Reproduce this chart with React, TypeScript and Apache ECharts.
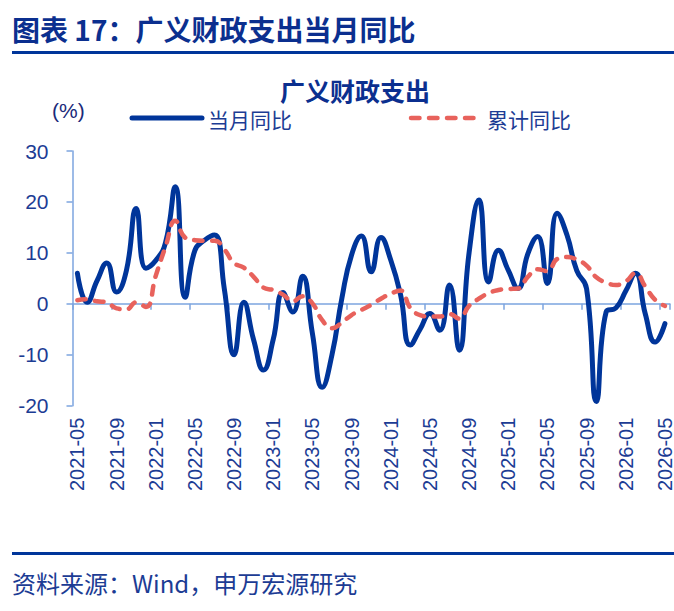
import React, { useEffect, useRef } from 'react';
import * as echarts from 'echarts';

// Monthly categories, 2021-05 .. 2026-05
const months = [
  '2021-05', '2021-06', '2021-07', '2021-08', '2021-09', '2021-10', '2021-11', '2021-12',
  '2022-01', '2022-02', '2022-03', '2022-04', '2022-05', '2022-06', '2022-07', '2022-08',
  '2022-09', '2022-10', '2022-11', '2022-12', '2023-01', '2023-02', '2023-03', '2023-04',
  '2023-05', '2023-06', '2023-07', '2023-08', '2023-09', '2023-10', '2023-11', '2023-12',
  '2024-01', '2024-02', '2024-03', '2024-04', '2024-05', '2024-06', '2024-07', '2024-08',
  '2024-09', '2024-10', '2024-11', '2024-12', '2025-01', '2025-02', '2025-03', '2025-04',
  '2025-05', '2025-06', '2025-07', '2025-08', '2025-09', '2025-10', '2025-11', '2025-12',
  '2026-01', '2026-02', '2026-03', '2026-04', '2026-05',
];

// 当月同比 (%)
const monthlyYoY = [
  6.0, 0.3, 4.5, 8.0, 2.3, 6.5, 18.7, 7.0, 8.5, 12.0,
  23.0, 1.3, 10.5, 12.5, 13.5, 3.0, -10.0, 0.3, -7.1, -13.0,
  -7.0, 2.2, -1.6, 5.4, -5.8, -16.4, -10.0, 1.0, 9.6, 13.3,
  6.3, 13.0, 8.6, 1.8, -8.1, -5.0, -1.9, -5.2, 3.7, -9.1,
  10.0, 20.4, 4.3, 10.5, 6.6, 3.0, 9.8, 13.2, 4.0, 17.8,
  13.5, 6.5, 3.0, -19.2, -1.6, -0.8, 2.5, 6.0, -2.0, -7.5,
  -3.9,
];

// 累计同比 (%)
const cumulativeYoY = [
  0.7, 0.9, 0.5, 0.3, -0.9, -1.1, 0.3, -0.6, 5.5, 11.2,
  16.3, 13.0, 12.5, 12.4, 12.4, 10.7, 8.0, 7.1, 5.3, 3.2,
  2.7, 1.8, 0.5, 1.5, 0.1, -3.2, -4.8, -3.7, -2.2, -1.2,
  -0.2, 1.0, 2.0, 2.6, -0.8, -2.2, -2.5, -2.5, -2.0, -2.9,
  -0.4, 1.0, 2.1, 2.7, 2.9, 3.0, 5.3, 6.8, 6.4, 8.8,
  9.2, 8.7, 7.5, 5.2, 4.2, 3.7, 4.4, 6.0, 3.4, 0.8,
  -0.4,
];

const yMin = -20;
const yMax = 30;
const yStep = 10;

const NAVY = '#1C3C94';
const TITLE_BLUE = '#0B2F8F';
const LINE_BLUE = '#00359A';
const LINE_RED = '#E8625C';
const AXIS_BLUE = '#7CA5DF';
const LATIN = '"Liberation Sans", Arial, sans-serif';
const CJK = '"Noto Sans CJK SC", "Liberation Sans", sans-serif';

export default function App() {
  const ref = useRef<HTMLDivElement>(null);

  useEffect(() => {
    document.body.style.margin = '0';
    if (!ref.current) return;
    const chart = echarts.init(ref.current, undefined, { renderer: 'svg' });

    const option: any = {
      animation: false,
      backgroundColor: '#ffffff',
      grid: {
        left: 72.5,
        top: 151,
        width: 597.3,
        height: 254.7,
        containLabel: false,
        outerBoundsMode: 'none',
      },
      xAxis: [
        {
          // axis line with ticks, sitting on the zero line
          type: 'category',
          data: months,
          boundaryGap: true,
          position: 'bottom',
          axisLine: { show: true, onZero: true, lineStyle: { color: AXIS_BLUE, width: 1.5 } },
          axisTick: { show: true, interval: 3, length: 6, lineStyle: { color: AXIS_BLUE, width: 1.5 } },
          axisLabel: { show: false },
          splitLine: { show: false },
        },
        {
          // rotated date labels along the bottom edge
          type: 'category',
          data: months,
          boundaryGap: true,
          position: 'bottom',
          axisLine: { show: false, onZero: false },
          axisTick: { show: false },
          axisLabel: {
            show: true,
            interval: 3,
            rotate: 90,
            margin: 12,
            color: NAVY,
            fontSize: 20,
            lineHeight: 14,
            fontFamily: LATIN,
          },
          splitLine: { show: false },
        },
      ],
      yAxis: {
        type: 'value',
        min: yMin,
        max: yMax,
        interval: yStep,
        axisLine: { show: true, lineStyle: { color: AXIS_BLUE, width: 1.5 } },
        axisTick: { show: true, length: 6, lineStyle: { color: AXIS_BLUE, width: 1.5 } },
        axisLabel: { color: NAVY, fontSize: 21, fontFamily: LATIN, margin: 24 },
        splitLine: { show: false },
      },
      series: [
        {
          name: '当月同比',
          type: 'line',
          xAxisIndex: 0,
          data: monthlyYoY,
          smooth: 0.5,
          symbol: 'none',
          lineStyle: { color: LINE_BLUE, width: 5, cap: 'round', join: 'round' },
          z: 2,
        },
        {
          name: '累计同比',
          type: 'line',
          xAxisIndex: 0,
          data: cumulativeYoY,
          smooth: 0.5,
          symbol: 'none',
          lineStyle: {
            color: LINE_RED,
            width: 4.5,
            type: [8.5, 9.5],
            cap: 'round',
            join: 'round',
          },
          z: 3,
        },
      ],
      graphic: [
        {
          type: 'text',
          left: 12,
          top: 15,
          style: {
            text: '图表 17：广义财政支出当月同比',
            fill: TITLE_BLUE,
            font: `bold 28px ${CJK}`,
          },
        },
        {
          type: 'rect',
          shape: { x: 12, y: 51, width: 662, height: 3 },
          style: { fill: LINE_BLUE },
        },
        {
          type: 'text',
          x: 355,
          y: 90,
          style: {
            text: '广义财政支出',
            fill: TITLE_BLUE,
            font: `bold 25px ${CJK}`,
            align: 'center',
            verticalAlign: 'middle',
            textAlign: 'center',
            textVerticalAlign: 'middle',
          },
        },
        {
          type: 'text',
          x: 52,
          y: 110,
          style: {
            text: '(%)',
            fill: '#1A2A7A',
            font: `21px ${LATIN}`,
            align: 'left',
            verticalAlign: 'middle',
            textAlign: 'left',
            textVerticalAlign: 'middle',
          },
        },
        {
          type: 'line',
          shape: { x1: 132, y1: 118, x2: 202, y2: 118 },
          style: { stroke: LINE_BLUE, lineWidth: 5, lineCap: 'round' },
        },
        {
          type: 'text',
          x: 208,
          y: 119,
          style: {
            text: '当月同比',
            fill: NAVY,
            font: `21px ${CJK}`,
            align: 'left',
            verticalAlign: 'middle',
            textAlign: 'left',
            textVerticalAlign: 'middle',
          },
        },
        {
          type: 'line',
          shape: { x1: 411, y1: 118, x2: 481, y2: 118 },
          style: { stroke: LINE_RED, lineWidth: 4.5, lineCap: 'round', lineDash: [8.5, 9.5] },
        },
        {
          type: 'text',
          x: 487,
          y: 119,
          style: {
            text: '累计同比',
            fill: NAVY,
            font: `21px ${CJK}`,
            align: 'left',
            verticalAlign: 'middle',
            textAlign: 'left',
            textVerticalAlign: 'middle',
          },
        },
        {
          type: 'rect',
          shape: { x: 12, y: 552, width: 662, height: 3 },
          style: { fill: LINE_BLUE },
        },
        {
          type: 'text',
          x: 12,
          y: 582,
          style: {
            text: '资料来源：Wind，申万宏源研究',
            fill: NAVY,
            font: `24px ${CJK}`,
            align: 'left',
            verticalAlign: 'middle',
            textAlign: 'left',
            textVerticalAlign: 'middle',
          },
        },
      ],
    };

    chart.setOption(option);
    return () => {
      chart.dispose();
    };
  }, []);

  return <div ref={ref} style={{ width: 674, height: 611 }} />;
}
